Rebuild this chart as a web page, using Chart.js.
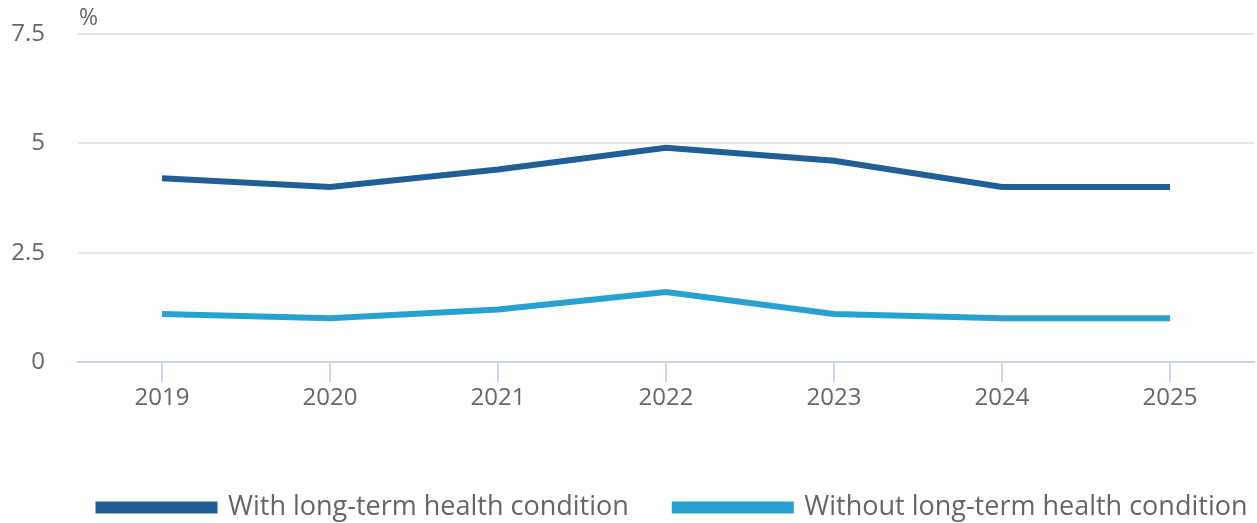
<!DOCTYPE html>
<html>
<head>
<meta charset="utf-8">
<script src="https://cdn.jsdelivr.net/npm/chart.js@4"></script>
<style>
  html, body { margin: 0; padding: 0; background: #fff; }
  #wrap { width: 1257px; height: 523px; position: relative; }
</style>
</head>
<body>
<div id="wrap"><canvas id="chart"></canvas></div>
<script>
const years = ['2019', '2020', '2021', '2022', '2023', '2024', '2025'];
const withCondition = [4.2, 4.0, 4.4, 4.9, 4.6, 4.0, 4.0];
const withoutCondition = [1.1, 1.0, 1.2, 1.6, 1.1, 1.0, 1.0];
const yTicks = [0, 2.5, 5, 7.5];

const unitLabel = {
  id: 'unitLabel',
  afterLayout(chart) {
    // nudge the legend to where it sits in the original
    const lg = chart.legend;
    lg.left += 46; lg.right += 46;
    lg.top += 8; lg.bottom += 8;
  },
  afterDraw(chart) {
    const c = chart.ctx;
    c.save();
    c.font = '23px "Open Sans"';
    c.fillStyle = '#666666';
    c.textBaseline = 'bottom';
    c.fillText('%', chart.chartArea.left + 1, chart.chartArea.top - 4);
    c.restore();
  }
};

new Chart(document.getElementById('chart').getContext('2d'), {
  type: 'line',
  data: {
    labels: years,
    datasets: [{
      label: 'With long-term health condition',
      data: withCondition,
      borderColor: '#1f5f96',
      backgroundColor: '#1f5f96',
      borderWidth: 6,
      pointRadius: 0,
      tension: 0
    }, {
      label: 'Without long-term health condition',
      data: withoutCondition,
      borderColor: '#27a1d0',
      backgroundColor: '#27a1d0',
      borderWidth: 6,
      pointRadius: 0,
      tension: 0
    }]
  },
  options: {
    responsive: true,
    maintainAspectRatio: false,
    animation: false,
    layout: { padding: { top: 34, right: 3, left: 0, bottom: 0 } },
    plugins: {
      legend: {
        position: 'bottom',
        labels: {
          font: { family: 'Open Sans', size: 27 },
          color: '#666666',
          boxWidth: 116,
          boxHeight: 6,
          padding: 46
        }
      },
      tooltip: { enabled: false }
    },
    scales: {
      x: {
        offset: true,
        afterFit(axis) { axis.height = 78; },
        grid: {
          offset: false,
          drawOnChartArea: false,
          color: '#ccd6eb',
          lineWidth: 2,
          tickLength: 20
        },
        border: { color: '#ccd6eb', width: 2 },
        ticks: {
          font: { family: 'Open Sans', size: 24 },
          color: '#666666',
          padding: 2
        }
      },
      y: {
        min: 0,
        max: 7.5,
        afterFit(axis) {
          axis.width = 78;
          axis.paddingTop = 0;
          axis.paddingBottom = 0;
        },
        afterBuildTicks(axis) {
          axis.ticks = yTicks.map(v => ({ value: v }));
        },
        grid: { color: '#e6e6e6', lineWidth: 2, drawTicks: false },
        border: { display: false },
        ticks: {
          font: { family: 'Open Sans', size: 24 },
          color: '#666666',
          padding: 33
        }
      }
    }
  },
  plugins: [unitLabel]
});
</script>
</body>
</html>
